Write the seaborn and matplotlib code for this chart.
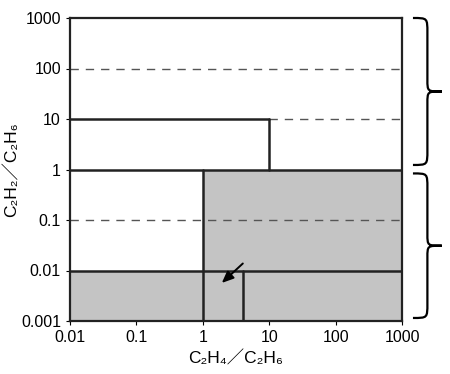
import matplotlib
matplotlib.use("Agg")
import matplotlib.pyplot as plt
from matplotlib.patches import Rectangle, PathPatch
from matplotlib.path import Path
import seaborn as sns
import pandas as pd

sns.set_style("ticks")
plt.rcParams['font.family'] = ['Liberation Sans', 'Noto Sans CJK JP', 'DejaVu Sans']
plt.rcParams['text.color'] = 'black'
plt.rcParams['axes.labelcolor'] = 'black'
plt.rcParams['xtick.color'] = 'black'
plt.rcParams['ytick.color'] = 'black'

# Data
x_ticks = [0.01, 0.1, 1, 10, 100, 1000]
y_ticks = [0.001, 0.01, 0.1, 1, 10, 100, 1000]
x_labels = ["0.01", "0.1", "1", "10", "100", "1000"]
y_labels = ["0.001", "0.01", "0.1", "1", "10", "100", "1000"]

# shaded regions (x0, x1, y0, y1)
shade_x0 = [1, 0.01]
shade_x1 = [1000, 1]
shade_y0 = [0.001, 0.001]
shade_y1 = [1, 0.01]

# solid boundary segments
seg_x0 = [0.01, 0.01, 10, 1, 0.01, 4]
seg_x1 = [1000, 10, 10, 1, 1000, 4]
seg_y0 = [1, 10, 1, 0.001, 0.01, 0.001]
seg_y1 = [1, 10, 10, 1, 0.01, 0.01]

# dashed guide lines
dash_x0 = [0.01, 10, 0.01]
dash_x1 = [1000, 1000, 1000]
dash_y = [100, 10, 0.1]

# arrow
arrow_start = (4.3, 0.015)
arrow_end = (1.8, 0.0052)

fig = plt.figure(figsize=(4.5, 3.74), dpi=100)
ax = fig.add_axes([70/450, 1 - 321/374, 332/450, 303/374])
ax.set_xscale('log')
ax.set_yscale('log')
ax.set_xlim(0.01, 1000)
ax.set_ylim(0.001, 1000)

for x0, x1, y0, y1 in zip(shade_x0, shade_x1, shade_y0, shade_y1):
    ax.add_patch(Rectangle((x0, y0), x1 - x0, y1 - y0, facecolor='#c4c4c4',
                           edgecolor='none', zorder=1))

for x0, x1, y in zip(dash_x0, dash_x1, dash_y):
    df = pd.DataFrame({'x': [x0, x1], 'y': [y, y]})
    sns.lineplot(data=df, x='x', y='y', ax=ax, color='#555555', lw=1.0,
                 linestyle=(0, (6, 5)), zorder=2, estimator=None, sort=False)

for x0, x1, y0, y1 in zip(seg_x0, seg_x1, seg_y0, seg_y1):
    df = pd.DataFrame({'x': [x0, x1], 'y': [y0, y1]})
    sns.lineplot(data=df, x='x', y='y', ax=ax, color='#222222', lw=1.8,
                 zorder=3, sort=False, estimator=None)

ax.annotate('', xy=arrow_end, xytext=arrow_start,
            arrowprops=dict(arrowstyle='-|>,head_length=0.7,head_width=0.3',
                            color='black', lw=1.4), zorder=4)

ax.set_xticks(x_ticks)
ax.set_xticklabels(x_labels)
ax.set_yticks(y_ticks)
ax.set_yticklabels(y_labels)
ax.minorticks_off()
ax.tick_params(axis='both', labelsize=11.5, length=3, width=0.8)
for s in ax.spines.values():
    s.set_linewidth(1.6)
    s.set_color('#222222')

ax.set_xlabel("C₂H₄／C₂H₆", fontsize=12.5, labelpad=4)
ax.set_ylabel("C₂H₂／C₂H₆", fontsize=12.5)
ax.yaxis.set_label_coords(-0.152, 0.5)


def brace(ax, y0, y1, x0, x1):
    # y in axes fraction, x in axes fraction; tip pointing right
    ym = (y0 + y1) / 2
    xm = (x0 + x1) / 2
    h = y1 - y0
    verts = [
        (x0, y1),
        (xm, y1), (xm, y1), (xm, y1 - 0.1 * h),
        (xm, ym + 0.08 * h),
        (xm, ym), (xm, ym), (x1, ym),
        (xm, ym), (xm, ym), (xm, ym - 0.08 * h),
        (xm, y0 + 0.1 * h),
        (xm, y0), (xm, y0), (x0, y0),
    ]
    codes = [Path.MOVETO,
             Path.CURVE4, Path.CURVE4, Path.CURVE4,
             Path.LINETO,
             Path.CURVE4, Path.CURVE4, Path.CURVE4,
             Path.CURVE4, Path.CURVE4, Path.CURVE4,
             Path.LINETO,
             Path.CURVE4, Path.CURVE4, Path.CURVE4]
    p = PathPatch(Path(verts, codes), transform=ax.transAxes, fill=False,
                  lw=1.6, color='black', clip_on=False)
    ax.add_patch(p)

brace(ax, 0.515, 1.0, 1.033, 1.12)
brace(ax, 0.01, 0.487, 1.033, 1.12)

fig.savefig('out.png', dpi=100)
